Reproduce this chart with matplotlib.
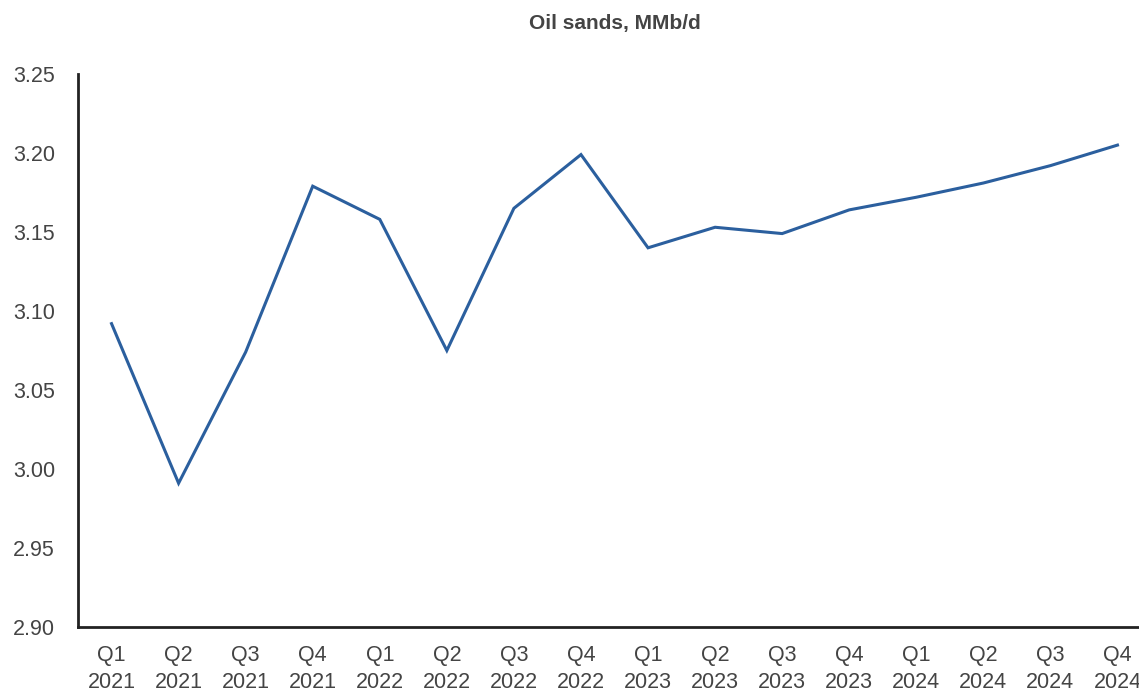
import matplotlib
matplotlib.use("Agg")
import matplotlib.pyplot as plt

quarters = ["Q1\n2021", "Q2\n2021", "Q3\n2021", "Q4\n2021",
            "Q1\n2022", "Q2\n2022", "Q3\n2022", "Q4\n2022",
            "Q1\n2023", "Q2\n2023", "Q3\n2023", "Q4\n2023",
            "Q1\n2024", "Q2\n2024", "Q3\n2024", "Q4\n2024"]
oil_sands = [3.092, 2.991, 3.074, 3.179, 3.158, 3.075, 3.165, 3.199,
             3.140, 3.153, 3.149, 3.164, 3.172, 3.181, 3.192, 3.205]
yticks = [2.90, 2.95, 3.00, 3.05, 3.10, 3.15, 3.20, 3.25]

plt.rcParams["font.family"] = ["Liberation Sans", "DejaVu Sans"]
txt = "#444444"

fig = plt.figure(figsize=(11.39, 6.93), dpi=100)
ax = fig.add_axes([78 / 1139, 1 - 627 / 693, 1073 / 1139, 553 / 693])

x = list(range(len(quarters)))
ax.plot(x, oil_sands, color="#2b5f9e", lw=2.2, solid_joinstyle="miter")

ax.set_xlim(-0.5, len(quarters) - 0.5)
ax.set_ylim(2.90, 3.25)
ax.set_yticks(yticks)
ax.set_yticklabels([f"{v:.2f}" for v in yticks])
ax.set_xticks(x)
ax.set_xticklabels(quarters, linespacing=1.4)
ax.tick_params(length=0, labelsize=15.5, colors=txt)
ax.tick_params(axis="y", pad=16.5)
ax.tick_params(axis="x", pad=13)
for s in ["top", "right"]:
    ax.spines[s].set_visible(False)
for s in ["left", "bottom"]:
    ax.spines[s].set_color("#222222")
    ax.spines[s].set_linewidth(2)

fig.text(615 / 1139, 1 - 23 / 693, "Oil sands, MMb/d", ha="center", va="center",
         fontsize=15, fontweight="bold", color=txt)

fig.savefig("out.png", dpi=100)
